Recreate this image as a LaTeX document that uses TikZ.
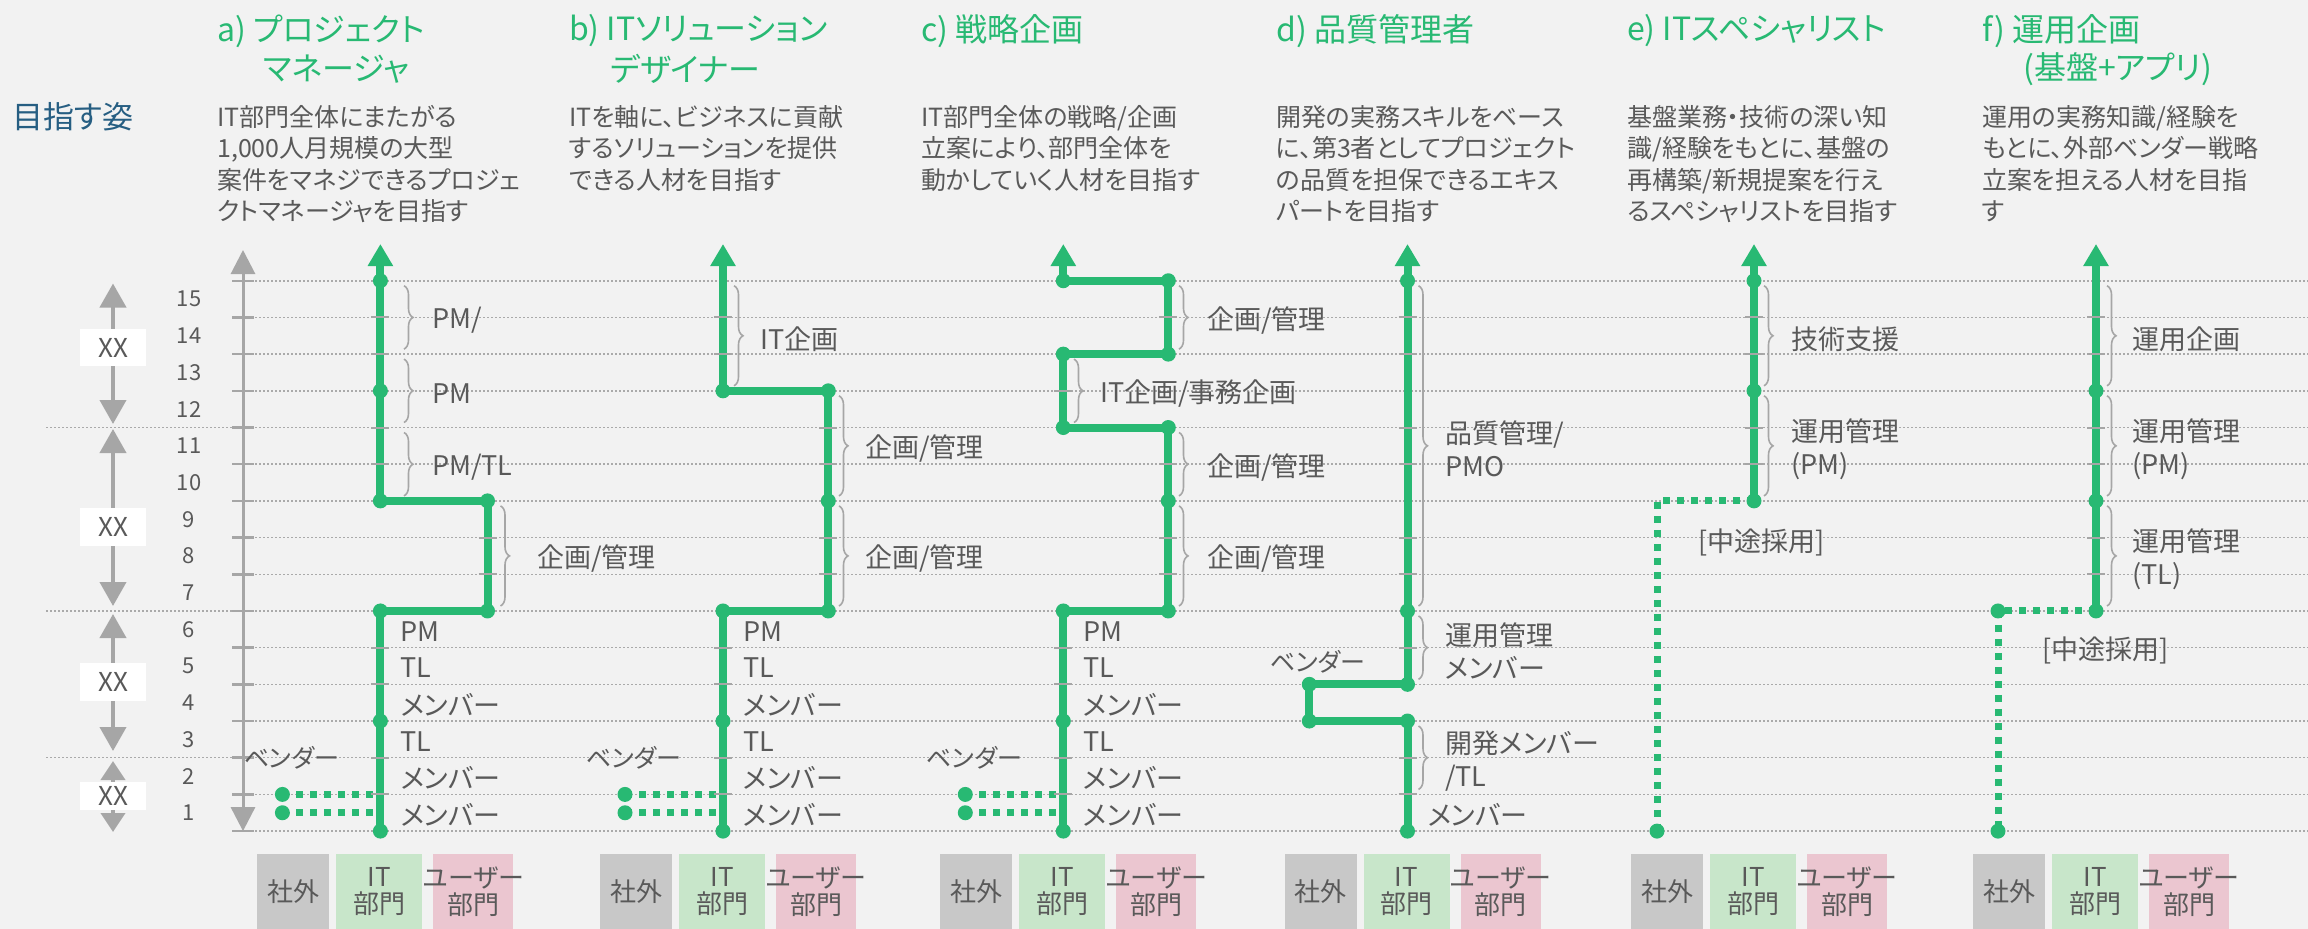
\documentclass[tikz,border=0pt]{standalone}
\usepackage{fontspec}
\setmainfont{Noto Sans CJK JP}[RawFeature=+palt]
\usetikzlibrary{arrows.meta,decorations.pathreplacing}
\definecolor{bg}{RGB}{242,242,242}
\definecolor{grn}{RGB}{40,185,115}
\definecolor{txt}{RGB}{89,89,89}
\definecolor{ttl}{RGB}{38,94,130}
\definecolor{axc}{RGB}{166,166,166}
\definecolor{gridc}{RGB}{170,170,170}
\definecolor{boxgray}{RGB}{200,200,200}
\definecolor{boxgreen}{RGB}{200,230,202}
\definecolor{boxpink}{RGB}{235,198,208}
\newcommand{\fsz}[2]{\fontsize{#1}{#2}\selectfont}
% brace with label: name, x, top level, bottom level, label x, text
\newcommand{\mkbrace}[6]{%
  \draw[brc] (#2,{Y(#3)+5}) -- (#2,{Y(#4)-5});
  \node[lbl,anchor=west,align=left] (#1) at (#5,{(Y(#3)+Y(#4))/2+3}) {#6};
}
\newcommand{\mkticks}[2]{%
  \foreach \k in {#2} {\draw[tk] ({#1-9},{Y(\k)}) -- ({#1+9},{Y(\k)});}
}
\newcommand{\lowerpart}[2]{%
  \coordinate (#1v1) at ({#2-98},{Y(1)});
  \coordinate (#1m1) at (#2,{Y(1)});
  \coordinate (#1v0) at ({#2-98},{Y(0.5)});
  \coordinate (#1m0) at (#2,{Y(0.5)});
  \draw[gdash] (#1v1) -- (#1m1);
  \draw[gdash] (#1v0) -- (#1m0);
  \node[gdot] (#1dv1) at (#1v1) {};
  \node[gdot] (#1dv0) at (#1v0) {};
  \node[vend] (#1vend) at ({#2-89},758) {ベンダー};
  \node[lvl] (#1L6) at ({#2+20},{Y(5.5)+2}) {PM};
  \node[lvl] (#1L5) at ({#2+20},{Y(4.5)+2}) {TL};
  \node[lvl] (#1L4) at ({#2+20},{Y(3.5)+2}) {メンバー};
  \node[lvl] (#1L3) at ({#2+20},{Y(2.5)+2}) {TL};
  \node[lvl] (#1L2) at ({#2+20},{Y(1.5)+2}) {メンバー};
  \node[lvl] (#1L1) at ({#2+20},{Y(0.5)+2}) {メンバー};
}
\newcommand{\mkboxes}[2]{%
  \node[obox,fill=boxgray,minimum width=72pt] (#1out) at ({#2-87},891.5) {社外};
  \node[obox,fill=boxgreen,minimum width=86pt] (#1it) at ({#2-1},891.5) {IT\\部門};
  \node[obox,fill=boxpink,minimum width=80pt] (#1usr) at ({#2+93},891.5) {\makebox[0pt]{ユーザー}\\部門};
}
\begin{document}
\begin{tikzpicture}[x=1pt,y=-1pt,
  declare function={Y(\k)=831.1-36.69*\k;},
  gline/.style={draw=grn,line width=8pt},
  garrow/.style={gline,-{Triangle[width=24pt,length=22pt]}},
  gdash/.style={draw=grn,line width=7pt,dash pattern=on 7pt off 7pt},
  gdot/.style={circle,fill=grn,minimum size=15pt,inner sep=0pt},
  tk/.style={draw=axc,line width=2pt},
  brc/.style={draw=axc,line width=1.6pt,decorate,decoration={brace,amplitude=9pt}},
  lbl/.style={text=txt,font=\fsz{27}{33},inner sep=0pt},
  lvl/.style={lbl,anchor=west},
  vend/.style={text=txt,font=\fsz{25}{28},inner sep=0pt},
  gridl/.style={draw=gridc,line width=1.5pt,dash pattern=on 1.5pt off 2.5pt},
  obox/.style={minimum height=75pt,inner sep=0pt,text=txt,font=\fsz{26}{27},align=center},
  xxbox/.style={fill=white,minimum width=66pt,inner sep=0pt,text=txt,font=\fsz{26}{30}},
  xxar/.style={draw=axc,line width=4pt,{Triangle[width=26pt,length=24pt]}-{Triangle[width=26pt,length=24pt]}},
  xxars/.style={draw=axc,line width=4pt,{Triangle[width=24pt,length=19pt]}-{Triangle[width=24pt,length=19pt]}},
  ttlst/.style={text=grn,font=\fsz{32}{38},anchor=west,inner sep=0pt},
  desc/.style={text=txt,font=\fsz{25}{31.5},align=left,anchor=north west,inner sep=0pt},
  num/.style={text=txt,font=\fsz{22}{25},inner sep=0pt},
]
\useasboundingbox (0,0) rectangle (2308,929);
\fill[bg] (0,0) rectangle (2308,929);

% grid
\foreach \k in {0,...,15} {\draw[gridl] (243,{Y(\k)}) -- (2308,{Y(\k)});}
\foreach \k in {2,6,11} {\draw[gridl] (46,{Y(\k)}) -- (243,{Y(\k)});}

% axis
\coordinate (axb) at (243,{Y(0)});
\coordinate (axt) at (243,250);
\draw[draw=axc,line width=3pt,{Triangle[width=24pt,length=24pt]}-{Triangle[width=24pt,length=24pt]}] (axb) -- (axt);
\foreach \k in {0,...,15} {\draw[draw=axc,line width=2.5pt] (232,{Y(\k)}) -- (254,{Y(\k)});}
\foreach \k in {1,...,15} {\node[num] (n\k) at (189,{Y(\k-0.5)}) {\k};}

% XX groups
\coordinate (g1t) at (113,283.5); \coordinate (g1b) at (113,424);
\coordinate (g2t) at (113,429);   \coordinate (g2b) at (113,606);
\coordinate (g3t) at (113,614);   \coordinate (g3b) at (113,751);
\coordinate (g4t) at (113,761);   \coordinate (g4b) at (113,832);
\draw[xxar] (g1b) -- (g1t);
\draw[xxar] (g2b) -- (g2t);
\draw[xxar] (g3b) -- (g3t);
\draw[xxars] (g4b) -- (g4t);
\node[xxbox,minimum height=37pt] (xx1) at (113,347.5) {XX};
\node[xxbox,minimum height=38pt] (xx2) at (113,527) {XX};
\node[xxbox,minimum height=38pt] (xx3) at (113,682) {XX};
\node[xxbox,minimum height=28pt] (xx4) at (113,796) {XX};

\node[text=ttl,font=\fsz{31}{36},anchor=west,inner sep=0pt] (goal) at (12,117) {目指す姿};

% ---------- column a ----------
\coordinate (a0) at (380.4,{Y(0)});
\coordinate (a3) at (380.4,{Y(3)});
\coordinate (a6) at (380.4,{Y(6)});
\coordinate (a6r) at (487.5,{Y(6)});
\coordinate (a9r) at (487.5,{Y(9)});
\coordinate (a9) at (380.4,{Y(9)});
\coordinate (a12) at (380.4,{Y(12)});
\coordinate (a15) at (380.4,{Y(15)});
\coordinate (atp) at (380.4,244);
\lowerpart{a}{380.4}
\draw[garrow] (a0) -- (a6) -- (a6r) -- (a9r) -- (a9) -- (atp);
\mkticks{380.4}{1,2,4,5,10,11,13,14}
\mkticks{487.5}{7,8}
\foreach \c in {a0,a3,a6,a6r,a9r,a9,a12,a15} {\node[gdot] (d\c) at (\c) {};}
\mkbrace{abr1}{404}{15}{13}{432}{PM/}
\mkbrace{abr2}{404}{13}{11}{432}{PM}
\mkbrace{abr3}{404}{11}{9}{432}{PM/TL}
\mkbrace{abr4}{500.5}{9}{6}{537}{企画/管理}

% ---------- column b ----------
\coordinate (b0) at (723,{Y(0)});
\coordinate (b3) at (723,{Y(3)});
\coordinate (b6) at (723,{Y(6)});
\coordinate (b6r) at (828.3,{Y(6)});
\coordinate (b9r) at (828.3,{Y(9)});
\coordinate (b12r) at (828.3,{Y(12)});
\coordinate (b12) at (723,{Y(12)});
\coordinate (btp) at (723,244);
\lowerpart{b}{723}
\draw[garrow] (b0) -- (b6) -- (b6r) -- (b12r) -- (b12) -- (btp);
\mkticks{723}{1,2,4,5,13,14}
\mkticks{828.3}{7,8,10,11}
\foreach \c in {b0,b3,b6,b6r,b9r,b12r,b12} {\node[gdot] (d\c) at (\c) {};}
\mkbrace{bbr1}{734}{15}{12}{760}{IT企画}
\mkbrace{bbr2}{839}{12}{9}{865}{企画/管理}
\mkbrace{bbr3}{839}{9}{6}{865}{企画/管理}

% ---------- column c ----------
\coordinate (c0) at (1063.3,{Y(0)});
\coordinate (c3) at (1063.3,{Y(3)});
\coordinate (c6) at (1063.3,{Y(6)});
\coordinate (c6r) at (1168.3,{Y(6)});
\coordinate (c9r) at (1168.3,{Y(9)});
\coordinate (c11r) at (1168.3,{Y(11)});
\coordinate (c11) at (1063.3,{Y(11)});
\coordinate (c13) at (1063.3,{Y(13)});
\coordinate (c13r) at (1168.3,{Y(13)});
\coordinate (c15r) at (1168.3,{Y(15)});
\coordinate (c15) at (1063.3,{Y(15)});
\coordinate (ctp) at (1063.3,244);
\lowerpart{c}{1063.3}
\draw[garrow] (c0) -- (c6) -- (c6r) -- (c11r) -- (c11) -- (c13) -- (c13r) -- (c15r) -- (c15) -- (ctp);
\mkticks{1063.3}{1,2,4,5,12}
\mkticks{1168.3}{7,8,10,14}
\foreach \c in {c0,c3,c6,c6r,c9r,c11r,c11,c13,c13r,c15r,c15} {\node[gdot] (d\c) at (\c) {};}
\mkbrace{cbr1}{1179}{15}{13}{1207}{企画/管理}
\mkbrace{cbr2}{1074}{13}{11}{1100}{IT企画/事務企画}
\mkbrace{cbr3}{1179}{11}{9}{1207}{企画/管理}
\mkbrace{cbr4}{1179}{9}{6}{1207}{企画/管理}

% ---------- column d ----------
\coordinate (d0) at (1407.5,{Y(0)});
\coordinate (d3) at (1407.5,{Y(3)});
\coordinate (d3l) at (1309.3,{Y(3)});
\coordinate (d4l) at (1309.3,{Y(4)});
\coordinate (d4) at (1407.5,{Y(4)});
\coordinate (d6) at (1407.5,{Y(6)});
\coordinate (d15) at (1407.5,{Y(15)});
\coordinate (dtp) at (1407.5,244);
\draw[garrow] (d0) -- (d3) -- (d3l) -- (d4l) -- (d4) -- (dtp);
\mkticks{1407.5}{1,2,5,7,8,10,11,13,14}
\foreach \c in {d0,d3,d3l,d4l,d4,d6,d15} {\node[gdot] (d\c) at (\c) {};}
\mkbrace{dbr1}{1418.5}{15}{6}{1445}{品質管理/\\PMO}
\mkbrace{dbr2}{1418.5}{6}{4}{1445}{運用管理\\メンバー}
\mkbrace{dbr3}{1418.5}{3}{1}{1445}{開発メンバー\\/TL}
\node[lvl] (dL1) at (1427.5,{Y(0.5)+2}) {メンバー};
\node[vend] (dvend) at (1318,662) {ベンダー};

% ---------- column e ----------
\coordinate (e9) at (1754,{Y(9)});
\coordinate (e12) at (1754,{Y(12)});
\coordinate (e15) at (1754,{Y(15)});
\coordinate (etp) at (1754,244);
\coordinate (e9l) at (1657,{Y(9)});
\coordinate (e0l) at (1657,{Y(0)});
\draw[gdash] (e9) -- (e9l) -- (e0l);
\draw[garrow] (e9) -- (etp);
\mkticks{1754}{10,11,13,14}
\foreach \c in {e9,e12,e15,e0l} {\node[gdot] (d\c) at (\c) {};}
\mkbrace{ebr1}{1764}{15}{12}{1791}{技術支援}
\mkbrace{ebr2}{1764}{12}{9}{1791}{運用管理\\(PM)}
\node[lvl] (emid) at (1698,542) {[中途採用]};

% ---------- column f ----------
\coordinate (f6) at (2096,{Y(6)});
\coordinate (f9) at (2096,{Y(9)});
\coordinate (f12) at (2096,{Y(12)});
\coordinate (ftp) at (2096,244);
\coordinate (f6l) at (1998,{Y(6)});
\coordinate (f0l) at (1998,{Y(0)});
\draw[gdash] (f6) -- (f6l) -- (f0l);
\draw[garrow] (f6) -- (ftp);
\mkticks{2096}{7,8,10,11,13,14}
\foreach \c in {f6,f9,f12,f6l,f0l} {\node[gdot] (d\c) at (\c) {};}
\mkbrace{fbr1}{2107}{15}{12}{2132}{運用企画}
\mkbrace{fbr2}{2107}{12}{9}{2132}{運用管理\\(PM)}
\mkbrace{fbr3}{2107}{9}{6}{2132}{運用管理\\(TL)}
\node[lvl] (fmid) at (2042,650) {[中途採用]};

% ---------- bottom boxes ----------
\mkboxes{a}{380.4}
\mkboxes{b}{723}
\mkboxes{c}{1063.3}
\mkboxes{d}{1407.5}
\mkboxes{e}{1754}
\mkboxes{f}{2096}

% ---------- headers ----------
\node[ttlst] (at1) at (217,31) {a) プロジェクト};
\node[ttlst] (at2) at (263,69) {マネージャ};
\node[ttlst] (bt1) at (569,31) {b) ITソリューション};
\node[ttlst] (bt2) at (610,69) {デザイナー};
\node[ttlst] (ct1) at (921,31) {c) 戦略企画};
\node[ttlst] (dt1) at (1276,31) {d) 品質管理者};
\node[ttlst] (et1) at (1627,31) {e) ITスペシャリスト};
\node[ttlst] (ft1) at (1982,31) {f) 運用企画};
\node[ttlst] (ft2) at (2023,69) {(基盤+アプリ)};

\node[desc] (ad) at (217,105) {IT部門全体にまたがる\\1,000人月規模の大型\\案件をマネジできるプロジェ\\クトマネージャを目指す};
\node[desc] (bd) at (569,105) {ITを軸に、ビジネスに貢献\\するソリューションを提供\\できる人材を目指す};
\node[desc] (cd) at (921,105) {IT部門全体の戦略/企画\\立案により、部門全体を\\動かしていく人材を目指す};
\node[desc] (dd) at (1276,105) {開発の実務スキルをベース\\に、第3者としてプロジェクト\\の品質を担保できるエキス\\パートを目指す};
\node[desc] (ed) at (1627,105) {基盤業務・技術の深い知\\識/経験をもとに、基盤の\\再構築/新規提案を行え\\るスペシャリストを目指す};
\node[desc] (fd) at (1982,105) {運用の実務知識/経験を\\もとに、外部ベンダー戦略\\立案を担える人材を目指\\す};
\end{tikzpicture}
\end{document}
